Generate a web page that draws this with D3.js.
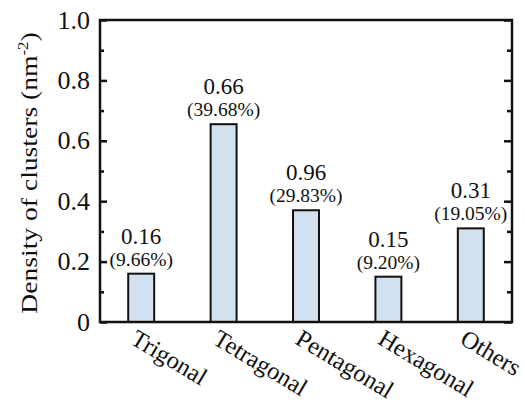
<!DOCTYPE html>
<html>
<head>
<meta charset="utf-8">
<script src="https://cdn.jsdelivr.net/npm/d3@7"></script>
<style>
  html, body { margin: 0; padding: 0; background: #ffffff; }
  svg { display: block; }
  text { font-family: "Liberation Serif", "Times New Roman", serif; fill: #111; }
</style>
</head>
<body>
<svg id="chart" width="525" height="405"></svg>
<script>
// ---- data ----
const categories = ["Trigonal", "Tetragonal", "Pentagonal", "Hexagonal", "Others"];
const densities = [0.16, 0.655, 0.37, 0.15, 0.31];
const valueLabels = ["0.16", "0.66", "0.96", "0.15", "0.31"];
const percentLabels = ["(9.66%)", "(39.68%)", "(29.83%)", "(9.20%)", "(19.05%)"];
const yMajorTicks = [0, 0.2, 0.4, 0.6, 0.8, 1.0];
const yTickLabels = ["0", "0.2", "0.4", "0.6", "0.8", "1.0"];
const yMinorTicks = [0.1, 0.3, 0.5, 0.7, 0.9];
const yTitle = "Density of clusters (nm";
const yTitleSup = "-2";

// ---- layout ----
const L = 100, R = 512, T = 20, B = 322;
const svg = d3.select("#chart");

const x = d3.scaleBand().domain(categories).range([L, R]).paddingInner(0.685).paddingOuter(0.3425);
const y = d3.scaleLinear().domain([0, 1]).range([B, T]);

// bars
svg.append("g").selectAll("rect").data(categories).join("rect")
  .attr("x", d => x(d))
  .attr("y", (d, i) => y(densities[i]))
  .attr("width", x.bandwidth())
  .attr("height", (d, i) => y(0) - y(densities[i]))
  .attr("fill", "#d2e1ef")
  .attr("stroke", "#111")
  .attr("stroke-width", 2);

// value labels
categories.forEach((c, i) => {
  const cx = x(c) + x.bandwidth() / 2;
  const top = y(densities[i]);
  svg.append("text").attr("x", cx).attr("y", top - 30)
    .attr("text-anchor", "middle").attr("font-size", 23).text(valueLabels[i]);
  svg.append("text").attr("x", cx).attr("y", top - 8)
    .attr("text-anchor", "middle").attr("font-size", 19.5).text(percentLabels[i]);
});

// axes (ticks inward on both sides)
const yAxisL = d3.axisLeft(y).tickValues(yMajorTicks).tickSize(-7).tickFormat("");
const yAxisLm = d3.axisLeft(y).tickValues(yMinorTicks).tickSize(-4).tickFormat("");
const yAxisR = d3.axisRight(y).tickValues(yMajorTicks).tickSize(-8).tickFormat("");
const yAxisRm = d3.axisRight(y).tickValues(yMinorTicks).tickSize(-5).tickFormat("");
[[yAxisL, L], [yAxisLm, L], [yAxisR, R], [yAxisRm, R]].forEach(([ax, px]) => {
  const g = svg.append("g").attr("transform", `translate(${px},0)`).call(ax);
  g.select(".domain").remove();
  g.selectAll("line").attr("stroke", "#111").attr("stroke-width", 2.5);
});

// frame
svg.append("rect").attr("x", L).attr("y", T).attr("width", R - L).attr("height", B - T)
  .attr("fill", "none").attr("stroke", "#111").attr("stroke-width", 2.5);

// y tick labels
yMajorTicks.forEach((v, i) => {
  svg.append("text").attr("x", 90).attr("y", y(v) + 8.5)
    .attr("text-anchor", "end").attr("font-size", 26).text(yTickLabels[i]);
});

// y title
const tt = svg.append("text")
  .attr("transform", `translate(37,${(T + B) / 2 + 2}) rotate(-90) scale(1.2,1)`)
  .attr("text-anchor", "middle").attr("font-size", 23);
tt.append("tspan").text(yTitle);
tt.append("tspan").attr("font-size", 14).attr("dy", -9).text(yTitleSup);
tt.append("tspan").attr("dy", 9).text(")");

// category labels
categories.forEach(c => {
  const cx = x(c) + x.bandwidth() / 2;
  svg.append("text")
    .attr("transform", `translate(${cx - 12},${B + 21}) rotate(31)`)
    .attr("text-anchor", "start").attr("font-size", 24.5).text(c);
});
</script>
</body>
</html>
